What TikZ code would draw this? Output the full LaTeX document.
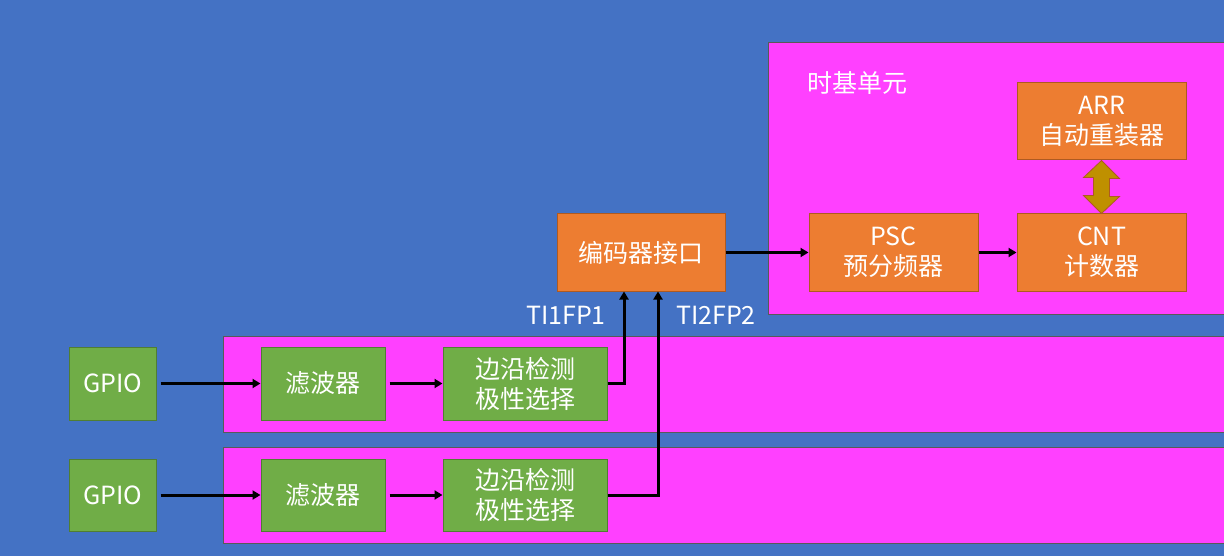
\documentclass[tikz,border=0pt]{standalone}
\usepackage{fontspec}
\setmainfont{Noto Sans CJK SC}
\usetikzlibrary{arrows.meta,shapes.arrows}
\definecolor{bgblue}{HTML}{4472C4}
\definecolor{pinkbox}{HTML}{FF40FF}
\definecolor{orangebox}{HTML}{ED7D31}
\definecolor{orangeedge}{HTML}{AE5A21}
\definecolor{greenbox}{HTML}{70AD47}
\definecolor{greenedge}{HTML}{507E32}
\definecolor{goldarrow}{HTML}{BF9000}
\tikzset{
  region/.style={fill=pinkbox,draw=gray!70!black,line width=0.8pt},
  obox/.style={fill=orangebox,draw=orangeedge,line width=1pt,text=white,align=center,font=\fontsize{25}{30}\selectfont,inner sep=0pt},
  gbox/.style={fill=greenbox,draw=greenedge,line width=1pt,text=white,align=center,font=\fontsize{25}{30}\selectfont,inner sep=0pt},
  wire/.style={line width=3pt,-{Triangle[length=8pt,width=9pt]}},
  lbl/.style={text=white,font=\fontsize{25}{28}\selectfont,inner sep=0pt}
}
\begin{document}
\begin{tikzpicture}[x=1pt,y=-1pt]
\fill[bgblue] (0,0) rectangle (1224,556);
\useasboundingbox (0,0) rectangle (1224,556);
% regions
\draw[region] (768,42) rectangle (1226,314);
\draw[region] (223,336) rectangle (1226,432);
\draw[region] (223,447) rectangle (1226,543);
\node[lbl,anchor=west] (tb) at (807,83) {时基单元};
% time base boxes
\node[obox,minimum width=169pt,minimum height=77pt] (arr) at (1101.5,121.5) {ARR\\自动重装器};
\node[obox,minimum width=169pt,minimum height=77pt] (cnt) at (1101.5,252.5) {CNT\\计数器};
\node[obox,minimum width=169pt,minimum height=77pt] (psc) at (893.5,252.5) {PSC\\预分频器};
\node[obox,minimum width=168pt,minimum height=77pt] (enc) at (641,252.5) {编码器接口};
% double arrow
\draw[fill=goldarrow,draw=orangeedge,line width=0.8pt]
  (arr.south) -- ++(18,18) -- ++(-10,0) -- ++(0,18) -- ++(10,0) -- (cnt.north)
  -- ++(-18,-18) -- ++(10,0) -- ++(0,-18) -- ++(-10,0) -- cycle;
% channels
\node[gbox,minimum width=87pt,minimum height=73pt] (gpio1) at (112.5,383.5) {GPIO};
\node[gbox,minimum width=124pt,minimum height=73pt] (flt1) at (323,383.5) {滤波器};
\node[gbox,minimum width=164pt,minimum height=73pt] (edg1) at (525,383.5) {边沿检测\\极性选择};
\node[gbox,minimum width=87pt,minimum height=72pt] (gpio2) at (112.5,495) {GPIO};
\node[gbox,minimum width=124pt,minimum height=72pt] (flt2) at (323,495) {滤波器};
\node[gbox,minimum width=164pt,minimum height=72pt] (edg2) at (525,495) {边沿检测\\极性选择};
% wires
\draw[wire] ([xshift=4pt]gpio1.east) -- (flt1.west);
\draw[wire] ([xshift=4pt]flt1.east) -- (edg1.west);
\draw[wire] ([xshift=4pt]gpio2.east) -- (flt2.west);
\draw[wire] ([xshift=4pt]flt2.east) -- (edg2.west);
\draw[wire] (edg1.east) -| (enc.south -| 624,0);
\draw[wire] (edg2.east) -| (enc.south -| 658,0);
\draw[wire] (enc.east) -- (psc.west);
\draw[wire] (psc.east) -- (cnt.west);
\node[lbl] (ti1) at (566,315) {TI1FP1};
\node[lbl] (ti2) at (716,315) {TI2FP2};
\end{tikzpicture}
\end{document}
